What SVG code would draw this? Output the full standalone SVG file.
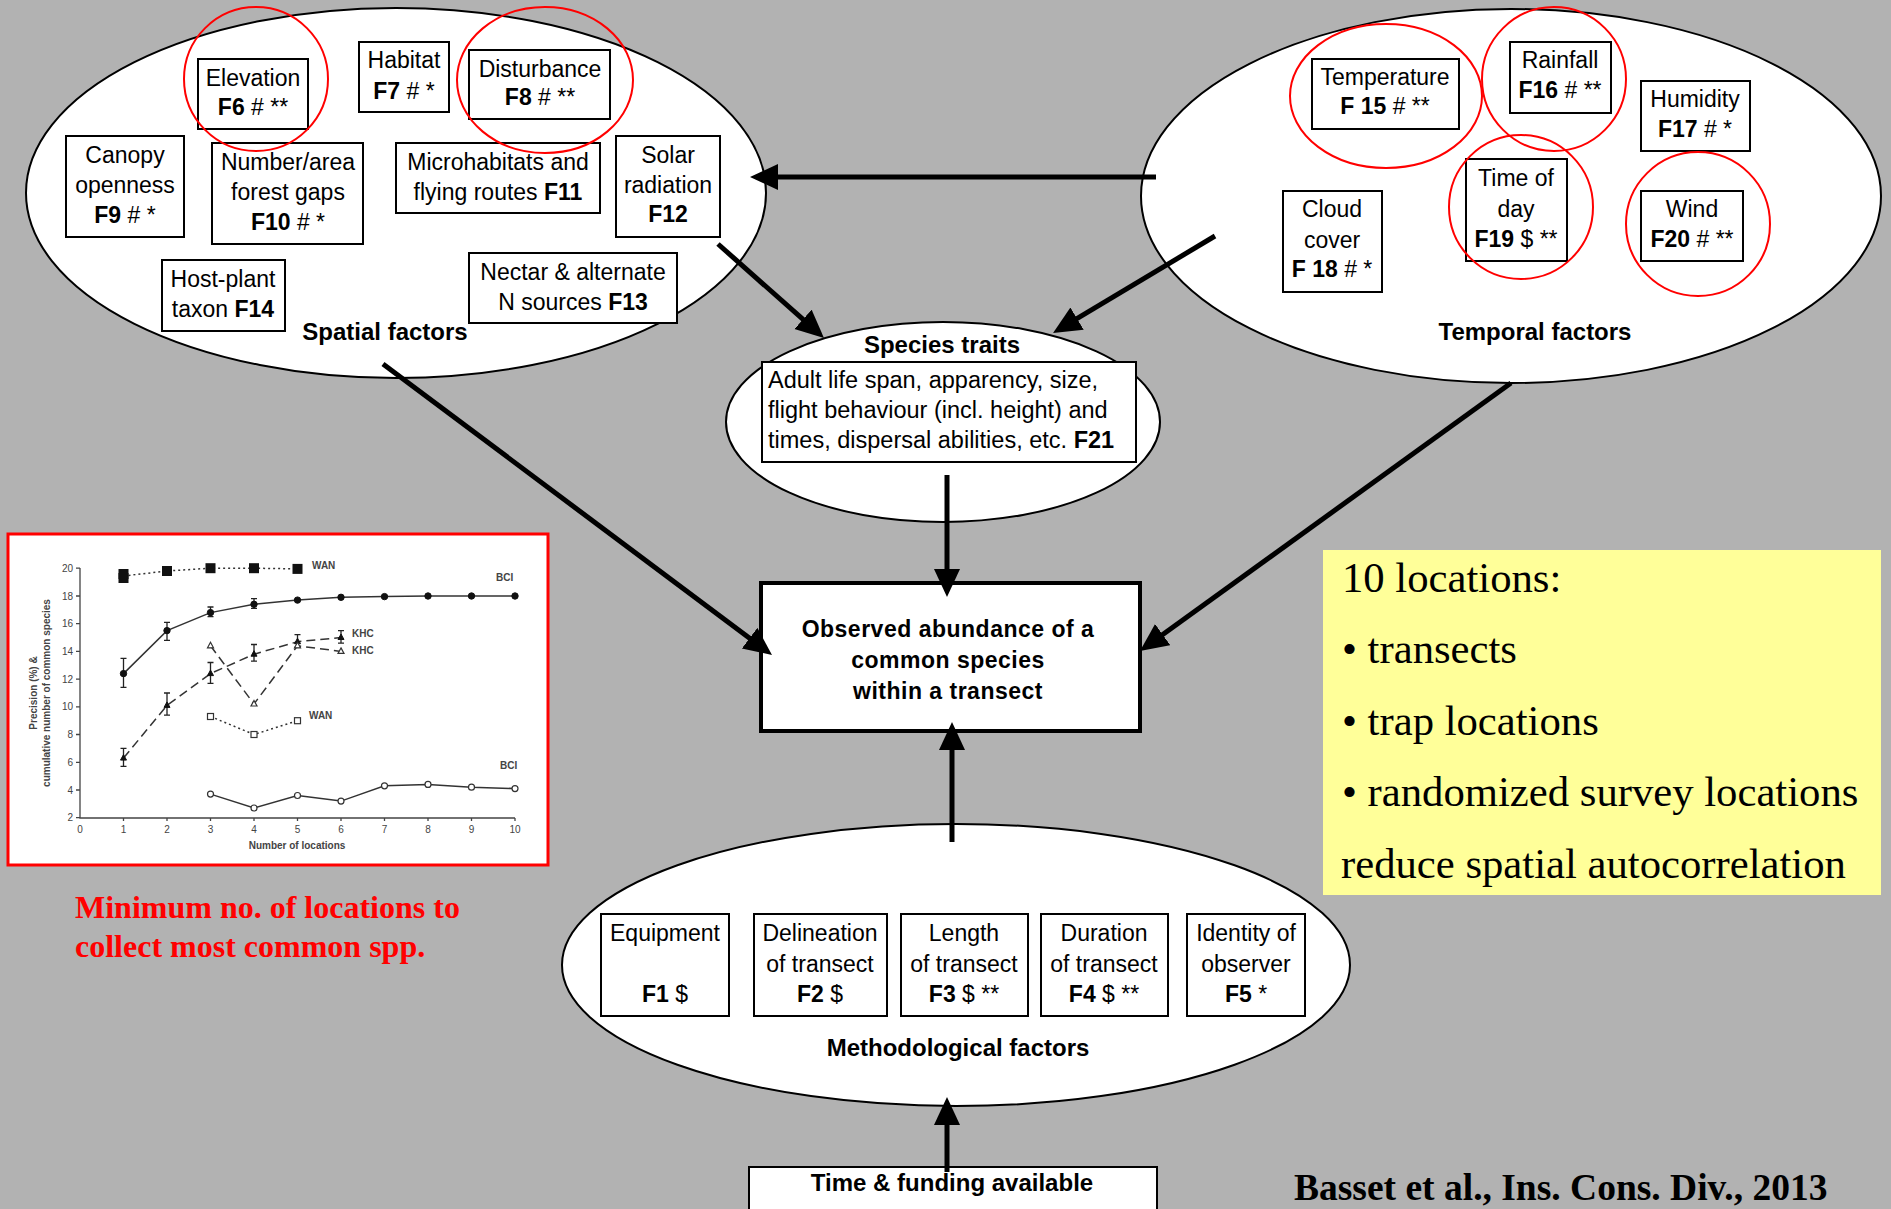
<svg xmlns="http://www.w3.org/2000/svg" width="1891" height="1209" viewBox="0 0 1891 1209">
<style>
.ell{fill:#fff;stroke:#000;stroke-width:2}
.box{fill:#fff;stroke:#000;stroke-width:2}
.red{fill:none;stroke:#f00;stroke-width:2}
.t{font-family:"Liberation Sans",Arial,sans-serif;font-size:23px;text-anchor:middle;fill:#000}
.b{font-weight:bold}
.lbl{font-family:"Liberation Sans",Arial,sans-serif;font-size:24px;font-weight:bold;text-anchor:middle;fill:#000}
.conn{stroke:#000;stroke-width:5;fill:none;marker-end:url(#ah)}
.ax{stroke:#444;stroke-width:1.3;fill:none}
.ct{font-family:"Liberation Sans",Arial,sans-serif;font-size:10px;fill:#444}
.cl{font-family:"Liberation Sans",Arial,sans-serif;font-size:10px;font-weight:bold;fill:#444}
.ser{stroke:#333;stroke-width:1.5;fill:none}
.err{stroke:#222;stroke-width:1.3;fill:none}
.ser2{fill:#111;stroke:#111;stroke-width:1}
.open{fill:#fff;stroke:#333;stroke-width:1.2}
.yel{font-family:"Liberation Serif","Times New Roman",serif;font-size:42.7px;fill:#000}
</style>
<defs>
<marker id="ah" markerUnits="userSpaceOnUse" markerWidth="30" markerHeight="28" refX="8" refY="13" orient="auto">
<path d="M0,0 L28,13 L0,26 Z" fill="#000"/>
</marker>
</defs>
<rect x="0" y="0" width="1891" height="1209" fill="#b2b2b2"/>

<g id="spatial-factors">
<ellipse class="ell" cx="396" cy="193" rx="370" ry="185"/>
<g id="f6"><rect class="box" x="198" y="59" width="110" height="70"/>
<text class="t" x="253" y="86">Elevation</text><text class="t" x="253" y="115"><tspan class="b">F6</tspan> # **</text></g>
<g id="f7"><rect class="box" x="359" y="42" width="90" height="70"/>
<text class="t" x="404" y="68">Habitat</text><text class="t" x="404" y="99"><tspan class="b">F7</tspan> # *</text></g>
<g id="f8"><rect class="box" x="469" y="50" width="141" height="69"/>
<text class="t" x="540" y="77">Disturbance</text><text class="t" x="540" y="105"><tspan class="b">F8</tspan> # **</text></g>
<g id="f9"><rect class="box" x="66" y="136" width="118" height="101"/>
<text class="t" x="125" y="163">Canopy</text><text class="t" x="125" y="193">openness</text><text class="t" x="125" y="223"><tspan class="b">F9</tspan> # *</text></g>
<g id="f10"><rect class="box" x="212" y="143" width="151" height="101"/>
<text class="t" x="288" y="170">Number/area</text><text class="t" x="288" y="200">forest gaps</text><text class="t" x="288" y="230"><tspan class="b">F10</tspan> # *</text></g>
<g id="f11"><rect class="box" x="396" y="143" width="204" height="70"/>
<text class="t" x="498" y="170">Microhabitats and</text><text class="t" x="498" y="200">flying routes <tspan class="b">F11</tspan></text></g>
<g id="f12"><rect class="box" x="616" y="136" width="104" height="101"/>
<text class="t" x="668" y="163">Solar</text><text class="t" x="668" y="193">radiation</text><text class="t b" x="668" y="222">F12</text></g>
<g id="f14"><rect class="box" x="162" y="260" width="123" height="71"/>
<text class="t" x="223" y="287">Host-plant</text><text class="t" x="223" y="317">taxon <tspan class="b">F14</tspan></text></g>
<g id="f13"><rect class="box" x="469" y="253" width="208" height="70"/>
<text class="t" x="573" y="280">Nectar &amp; alternate</text><text class="t" x="573" y="310">N sources <tspan class="b">F13</tspan></text></g>
<text class="lbl" x="385" y="340">Spatial factors</text>
<ellipse class="red" cx="256" cy="79" rx="72" ry="72"/>
<ellipse class="red" cx="545" cy="80" rx="88" ry="73"/>
</g>

<g id="temporal-factors">
<ellipse class="ell" cx="1511" cy="196" rx="370" ry="187"/>
<g id="f15"><rect class="box" x="1312" y="59" width="147" height="70"/>
<text class="t" x="1385" y="85">Temperature</text><text class="t" x="1385" y="114"><tspan class="b">F 15</tspan> # **</text></g>
<g id="f16"><rect class="box" x="1510" y="42" width="101" height="71"/>
<text class="t" x="1560" y="68">Rainfall</text><text class="t" x="1560" y="98"><tspan class="b">F16</tspan> # **</text></g>
<g id="f17"><rect class="box" x="1641" y="81" width="109" height="70"/>
<text class="t" x="1695" y="107">Humidity</text><text class="t" x="1695" y="137"><tspan class="b">F17</tspan> # *</text></g>
<g id="f18"><rect class="box" x="1283" y="191" width="99" height="101"/>
<text class="t" x="1332" y="217">Cloud</text><text class="t" x="1332" y="248">cover</text><text class="t" x="1332" y="277"><tspan class="b">F 18</tspan> # *</text></g>
<g id="f19"><rect class="box" x="1466" y="159" width="101" height="102"/>
<text class="t" x="1516" y="186">Time of</text><text class="t" x="1516" y="217">day</text><text class="t" x="1516" y="247"><tspan class="b">F19</tspan> $ **</text></g>
<g id="f20"><rect class="box" x="1641" y="191" width="102" height="70"/>
<text class="t" x="1692" y="217">Wind</text><text class="t" x="1692" y="247"><tspan class="b">F20</tspan> # **</text></g>
<text class="lbl" x="1535" y="340">Temporal factors</text>
<ellipse class="red" cx="1386" cy="96" rx="96" ry="72"/>
<ellipse class="red" cx="1554" cy="79" rx="72" ry="72"/>
<ellipse class="red" cx="1521" cy="207" rx="72" ry="72"/>
<ellipse class="red" cx="1698" cy="224" rx="72" ry="72"/>
</g>

<g id="species-traits">
<ellipse class="ell" cx="943" cy="422" rx="217" ry="100"/>
<text class="lbl" x="942" y="353">Species traits</text>
<rect class="box" x="762" y="362" width="374" height="100"/>
<text class="t" x="768" y="388" style="text-anchor:start;font-size:23.5px">Adult life span, apparency, size,</text>
<text class="t" x="768" y="418" style="text-anchor:start;font-size:23.5px">flight behaviour (incl. height) and</text>
<text class="t" x="768" y="448" style="text-anchor:start;font-size:23.5px">times, dispersal abilities, etc. <tspan class="b">F21</tspan></text>
</g>

<g id="observed-abundance">
<rect x="761" y="583" width="379" height="148" fill="#fff" stroke="#000" stroke-width="4"/>
<text class="t b" x="948" y="637" style="letter-spacing:0.5px">Observed abundance of a</text>
<text class="t b" x="948" y="668" style="letter-spacing:0.5px">common species</text>
<text class="t b" x="948" y="699" style="letter-spacing:0.5px">within a transect</text>
</g>

<g id="methodological-factors">
<ellipse class="ell" cx="956" cy="965" rx="394" ry="141"/>
<g id="f1"><rect class="box" x="601" y="914" width="128" height="102"/>
<text class="t" x="665" y="941">Equipment</text><text class="t" x="665" y="1002"><tspan class="b">F1</tspan> $</text></g>
<g id="f2"><rect class="box" x="754" y="914" width="133" height="102"/>
<text class="t" x="820" y="941">Delineation</text><text class="t" x="820" y="972">of transect</text><text class="t" x="820" y="1002"><tspan class="b">F2</tspan> $</text></g>
<g id="f3"><rect class="box" x="901" y="914" width="127" height="102"/>
<text class="t" x="964" y="941">Length</text><text class="t" x="964" y="972">of transect</text><text class="t" x="964" y="1002"><tspan class="b">F3</tspan> $ **</text></g>
<g id="f4"><rect class="box" x="1041" y="914" width="127" height="102"/>
<text class="t" x="1104" y="941">Duration</text><text class="t" x="1104" y="972">of transect</text><text class="t" x="1104" y="1002"><tspan class="b">F4</tspan> $ **</text></g>
<g id="f5"><rect class="box" x="1187" y="914" width="118" height="102"/>
<text class="t" x="1246" y="941">Identity of</text><text class="t" x="1246" y="972">observer</text><text class="t" x="1246" y="1002"><tspan class="b">F5</tspan> *</text></g>
<text class="lbl" x="958" y="1056">Methodological factors</text>
</g>

<g id="time-funding">
<rect class="box" x="749" y="1167" width="408" height="60"/>
<text class="lbl" x="952" y="1191">Time &amp; funding available</text>
</g>

<g id="connectors">
<line class="conn" x1="1156" y1="177" x2="770" y2="177"/>
<line class="conn" x1="718" y1="244" x2="809" y2="324.7"/>
<line class="conn" x1="1215" y1="236" x2="1070.2" y2="322.7"/>
<line class="conn" x1="383" y1="364" x2="756" y2="643"/>
<line class="conn" x1="1511" y1="383" x2="1156.2" y2="639.3"/>
<line class="conn" x1="947" y1="475" x2="947" y2="577"/>
<line class="conn" x1="952" y1="842" x2="952" y2="742"/>
<line class="conn" x1="947" y1="1172" x2="947" y2="1117"/>
</g>

<g id="chart">
<rect x="8" y="534" width="540" height="331" fill="#fff" stroke="#f00" stroke-width="3"/>
<path class="ax" d="M80,568 V818 H515"/>
<path class="ax" d="M76,568.2 H80 M76,596 H80 M76,623.7 H80 M76,651.4 H80 M76,679.1 H80 M76,706.8 H80 M76,734.5 H80 M76,762.3 H80 M76,790 H80 M76,817.7 H80"/>
<path class="ax" d="M123.5,818 v3 M167,818 v3 M210.5,818 v3 M254,818 v3 M297.5,818 v3 M341,818 v3 M384.5,818 v3 M428,818 v3 M471.5,818 v3 M515,818 v3"/>
<g class="ct" text-anchor="end">
<text x="73" y="571.5">20</text><text x="73" y="599.5">18</text><text x="73" y="627">16</text><text x="73" y="655">14</text><text x="73" y="682.5">12</text><text x="73" y="710">10</text><text x="73" y="738">8</text><text x="73" y="765.5">6</text><text x="73" y="793.5">4</text><text x="73" y="821">2</text>
</g>
<g class="ct" text-anchor="middle">
<text x="80" y="833">0</text><text x="123.5" y="833">1</text><text x="167" y="833">2</text><text x="210.5" y="833">3</text><text x="254" y="833">4</text><text x="297.5" y="833">5</text><text x="341" y="833">6</text><text x="384.5" y="833">7</text><text x="428" y="833">8</text><text x="471.5" y="833">9</text><text x="515" y="833">10</text>
</g>
<text class="cl" x="297" y="849" text-anchor="middle">Number of locations</text>
<text class="cl" transform="translate(37,693) rotate(-90)" text-anchor="middle">Precision (%) &amp;</text>
<text class="cl" transform="translate(50,693) rotate(-90)" text-anchor="middle">cumulative number of common species</text>
<polyline class="ser" stroke-dasharray="2,3" points="123.5,576 167,571 210.5,568.2 254,568.2 297.5,568.9"/>
<g fill="#111">
<rect x="118.5" y="569" width="10" height="10"/><rect x="118.5" y="573" width="10" height="10"/><rect x="162" y="566" width="10" height="10"/><rect x="205.5" y="563.2" width="10" height="10"/><rect x="249" y="563.2" width="10" height="10"/><rect x="292.5" y="563.9" width="10" height="10"/>
</g>
<polyline class="ser" points="123.5,673.6 167,630.6 210.5,612.6 254,604.3 297.5,600.1 341,597.3 384.5,596.6 428,596 471.5,596 515,596"/>
<path class="err" d="M123.5,687.4 V658.3 M120.5,687.4 h6 M120.5,658.3 h6 M167,640.3 V622.3 M164,640.3 h6 M164,622.3 h6 M210.5,616.7 V607 M207.5,616.7 h6 M207.5,607 h6 M254,608.4 V598.7 M251,608.4 h6 M251,598.7 h6"/>
<g class="ser2">
<circle cx="123.5" cy="673.6" r="3.2"/><circle cx="167" cy="630.6" r="3.2"/><circle cx="210.5" cy="612.6" r="3.2"/><circle cx="254" cy="604.3" r="3.2"/><circle cx="297.5" cy="600.1" r="3.2"/><circle cx="341" cy="597.3" r="3.2"/><circle cx="384.5" cy="596.6" r="3.2"/><circle cx="428" cy="596" r="3.2"/><circle cx="471.5" cy="596" r="3.2"/><circle cx="515" cy="596" r="3.2"/>
</g>
<polyline class="ser" stroke-dasharray="9,5" points="123.5,758.1 167,705.4 210.5,673.6 254,654.2 297.5,641.7 341,637.5"/>
<path class="err" d="M123.5,766.4 V748.4 M120.5,766.4 h6 M120.5,748.4 h6 M167,715.1 V693 M164,715.1 h6 M164,693 h6 M210.5,683.3 V662.5 M207.5,683.3 h6 M207.5,662.5 h6 M254,661.1 V644.5 M251,661.1 h6 M251,644.5 h6 M297.5,647.2 V634.7 M294.5,647.2 h6 M294.5,634.7 h6 M341,643.1 V630.6 M338,643.1 h6 M338,630.6 h6"/>
<g class="ser2">
<path d="M123.5,754.6 l3,5.5 h-6 z"/><path d="M167,701.9 l3,5.5 h-6 z"/><path d="M210.5,670.1 l3,5.5 h-6 z"/><path d="M254,650.7 l3,5.5 h-6 z"/><path d="M297.5,638.2 l3,5.5 h-6 z"/><path d="M341,634 l3,5.5 h-6 z"/>
</g>
<polyline class="ser" stroke="#555" stroke-dasharray="9,5" points="210.5,645.8 254,704 297.5,645.8 341,651.4"/>
<g class="open">
<path d="M210.5,642.3 l3,5.5 h-6 z"/><path d="M254,700.5 l3,5.5 h-6 z"/><path d="M297.5,642.3 l3,5.5 h-6 z"/><path d="M341,647.9 l3,5.5 h-6 z"/>
</g>
<polyline class="ser" stroke-dasharray="2,3" points="210.5,716.5 254,734.5 297.5,720.7"/>
<g class="open">
<rect x="207.5" y="713.5" width="6" height="6"/><rect x="251" y="731.5" width="6" height="6"/><rect x="294.5" y="717.7" width="6" height="6"/>
</g>
<polyline class="ser" points="210.5,794.1 254,808 297.5,795.5 341,801.1 384.5,785.8 428,784.4 471.5,787.2 515,788.6"/>
<g class="open">
<circle cx="210.5" cy="794.1" r="3"/><circle cx="254" cy="808" r="3"/><circle cx="297.5" cy="795.5" r="3"/><circle cx="341" cy="801.1" r="3"/><circle cx="384.5" cy="785.8" r="3"/><circle cx="428" cy="784.4" r="3"/><circle cx="471.5" cy="787.2" r="3"/><circle cx="515" cy="788.6" r="3"/>
</g>
<text class="cl" x="312" y="569">WAN</text>
<text class="cl" x="496" y="581">BCI</text>
<text class="cl" x="352" y="637">KHC</text>
<text class="cl" x="352" y="654">KHC</text>
<text class="cl" x="309" y="719">WAN</text>
<text class="cl" x="500" y="769">BCI</text>
</g>

<g id="chart-caption" font-family="'Liberation Serif','Times New Roman',serif" font-size="32" font-weight="bold" fill="#f00">
<text x="75" y="918">Minimum no. of locations to</text>
<text x="75" y="957">collect most common spp.</text>
</g>

<g id="note">
<rect x="1323" y="550" width="558" height="345" fill="#ffff99"/>
<text class="yel" x="1342" y="592">10 locations:</text>
<text class="yel" x="1342" y="663">• transects</text>
<text class="yel" x="1342" y="735">• trap locations</text>
<text class="yel" x="1342" y="806">• randomized survey locations</text>
<text class="yel" x="1341" y="878">reduce spatial autocorrelation</text>
</g>

<text x="1294" y="1200" font-family="'Liberation Serif','Times New Roman',serif" font-size="37.5" font-weight="bold" fill="#000">Basset et al., Ins. Cons. Div., 2013</text>
</svg>
